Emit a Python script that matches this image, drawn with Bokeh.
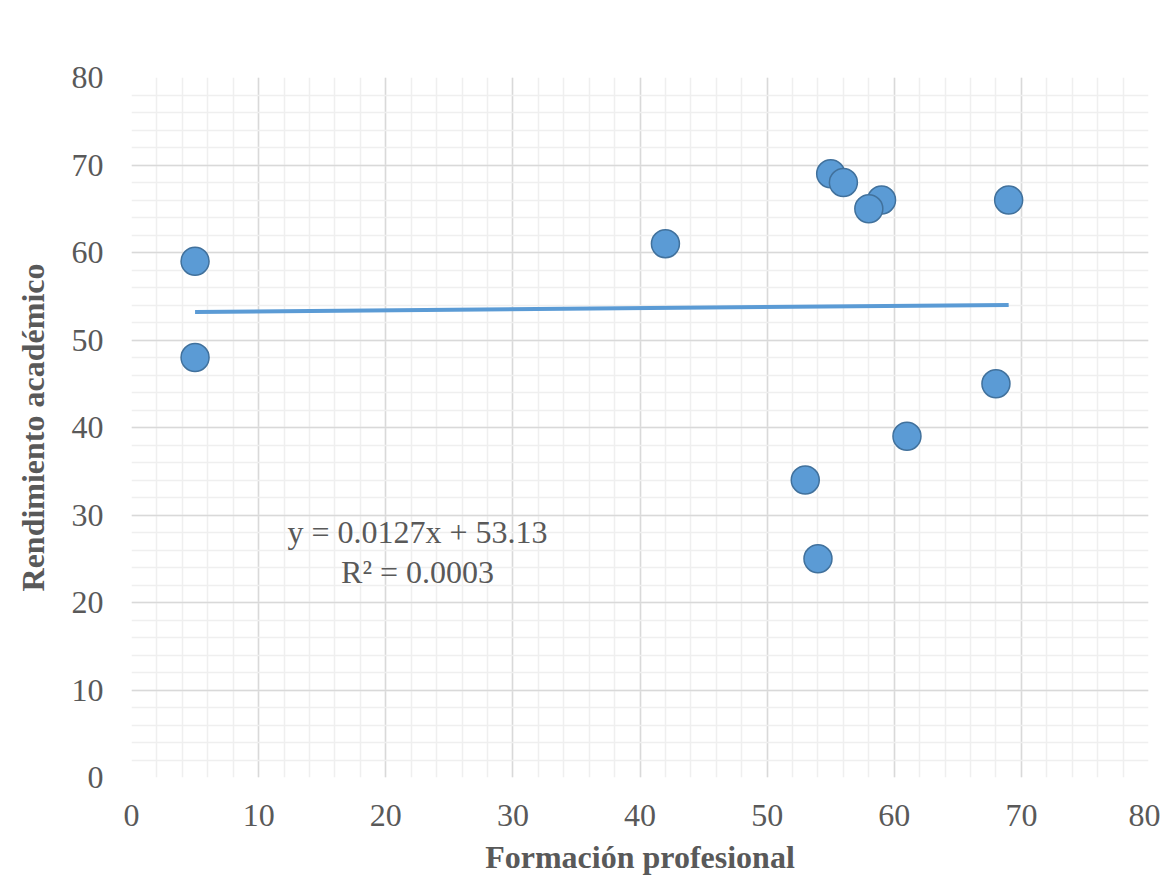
import numpy as np
from bokeh.plotting import figure
from bokeh.models import Range1d, Label, SingleIntervalTicker
from bokeh.embed import file_html
from bokeh.resources import INLINE

# Data
formacion = [5, 5, 42, 55, 56, 59, 58, 69, 68, 61, 53, 54]
rendimiento = [59, 48, 61, 69, 68, 66, 65, 66, 45, 39, 34, 25]
x_ticks = [0, 10, 20, 30, 40, 50, 60, 70, 80]
y_ticks = [0, 10, 20, 30, 40, 50, 60, 70, 80]

slope, intercept = np.polyfit(formacion, rendimiento, 1)
pred = np.polyval([slope, intercept], formacion)
r2 = 1 - np.sum((np.array(rendimiento) - pred) ** 2) / np.sum((np.array(rendimiento) - np.mean(rendimiento)) ** 2)

FONT = "Liberation Serif"
TXT = "#595959"

p = figure(width=1160, height=877, output_backend="svg", toolbar_location=None,
           x_range=Range1d(0, 80), y_range=Range1d(0, 80))
p.min_border_left = 131
p.min_border_top = 77
p.min_border_right = 12
p.min_border_bottom = 98
p.outline_line_color = None
p.background_fill_color = "white"
p.border_fill_color = "white"

for ax in (p.xaxis[0], p.yaxis[0]):
    ax.ticker = SingleIntervalTicker(interval=10, num_minor_ticks=5)
    ax.axis_line_color = None
    ax.major_tick_line_color = None
    ax.minor_tick_line_color = None
    ax.major_label_text_font = FONT
    ax.major_label_text_font_size = "32px"
    ax.major_label_text_color = TXT
    ax.axis_label_text_font = FONT
    ax.axis_label_text_font_size = "32px"
    ax.axis_label_text_font_style = "bold"
    ax.axis_label_text_color = TXT

p.xaxis.major_label_standoff = 21
p.yaxis.major_label_standoff = 22
p.xaxis.axis_label = "Formación profesional"
p.yaxis.axis_label = "Rendimiento académico"
p.xaxis.axis_label_standoff = 10
p.yaxis.axis_label_standoff = 18

for g in (p.xgrid[0], p.ygrid[0]):
    g.ticker = SingleIntervalTicker(interval=10, num_minor_ticks=5)
    g.grid_line_color = "#d9d9d9"
    g.grid_line_width = 1.5
    g.minor_grid_line_color = "#efefef"
    g.minor_grid_line_width = 1.5

# trendline
xs = np.array([min(formacion), max(formacion)])
p.line(xs, slope * xs + intercept, line_color="#5B9BD5", line_width=4)

p.scatter(formacion, rendimiento, size=28, fill_color="#5B9BD5",
          line_color="#41719C", line_width=1.5)

eq1 = f"y = {slope:.4f}x + {intercept:.2f}"
eq2 = f"R² = {r2:.4f}"
for txt, yy in ((eq1, 28.1), (eq2, 23.5)):
    p.add_layout(Label(x=22.5, y=yy, text=txt, text_font=FONT, text_font_size="32px",
                       text_color=TXT, text_align="center", text_baseline="middle"))

open("out.html", "w").write(file_html(p, INLINE))
